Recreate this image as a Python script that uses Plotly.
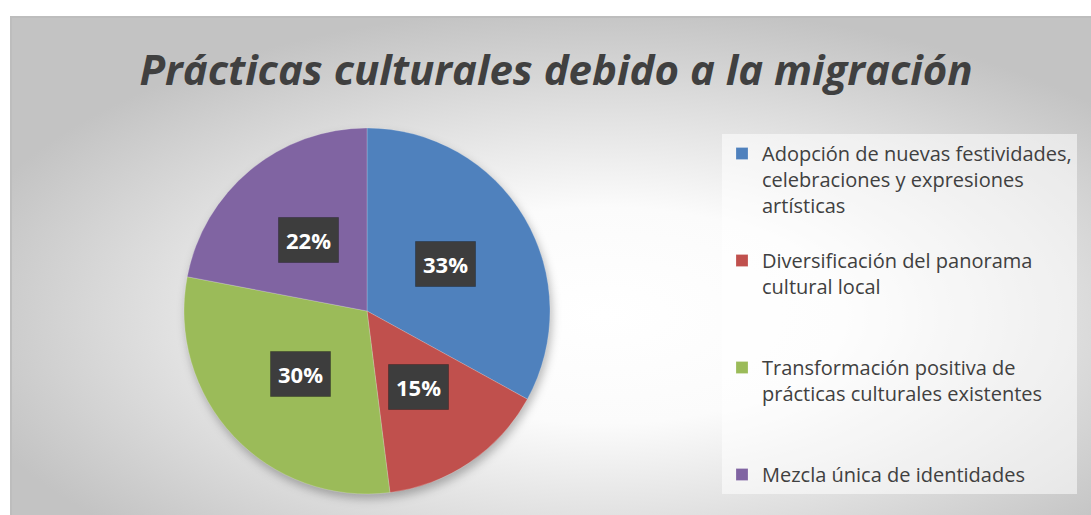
import base64
import math

import plotly.graph_objects as go

# chart data
categories = [
    "Adopción de nuevas festividades,<br>celebraciones y expresiones<br>artísticas",
    "Diversificación del panorama<br>cultural local",
    "Transformación positiva de<br>prácticas culturales existentes",
    "Mezcla única de identidades",
]
shares = [33, 15, 30, 22]
slice_colors = ["#4F81BD", "#C0504D", "#9BBB59", "#8064A2"]
title_text = "Prácticas culturales debido a la migración"

W, H = 1091, 515
FONT = "'Open Sans', 'Noto Sans', sans-serif"

# pie position in pixels (center + radius), converted to paper coords
cx_px, cy_px, r_px = 367, 311, 183
pie_domain = dict(x=[(cx_px - r_px) / W, (cx_px + r_px) / W],
                  y=[1 - (cy_px + r_px) / H, 1 - (cy_px - r_px) / H])

# chart area (background box) in pixels
area_x0, area_y0 = 10, 16
area_w, area_h = W - area_x0, H - area_y0


def background_svg():
    """Radial grey gradient like the Excel chart area, plus a soft pie shadow"""
    scx, scy = cx_px - area_x0 + 2, cy_px - area_y0 + 5
    svg = (
        f"<svg xmlns='http://www.w3.org/2000/svg' width='{area_w}' height='{area_h}' "
        f"viewBox='0 0 {area_w} {area_h}'>"
        "<defs>"
        "<radialGradient id='g' cx='0.55' cy='0.6' r='0.62'>"
        "<stop offset='0' stop-color='#ffffff'/>"
        "<stop offset='0.35' stop-color='#fbfbfb'/>"
        "<stop offset='1' stop-color='#c3c3c3'/>"
        "</radialGradient>"
        "<filter id='b' x='-20%' y='-20%' width='140%' height='140%'>"
        "<feGaussianBlur stdDeviation='5'/></filter>"
        "</defs>"
        f"<rect width='{area_w}' height='{area_h}' fill='url(#g)'/>"
        f"<circle cx='{scx}' cy='{scy}' r='{r_px}' fill='#000' fill-opacity='0.28' filter='url(#b)'/>"
        f"<path d='M1,{area_h} V1 H{area_w}' fill='none' stroke='#bdbdbd' stroke-width='2'/>"
        "</svg>"
    )
    return "data:image/svg+xml;base64," + base64.b64encode(svg.encode("utf-8")).decode()


# pad legend entries to the same number of lines so they are spread like in Excel
legend_lines = 4
legend_labels = [c + "<br> " * (legend_lines - c.count("<br>") - 1) for c in categories]
legend_labels[-1] = categories[-1]

fig = go.Figure()
fig.add_trace(go.Pie(
    labels=legend_labels,
    values=shares,
    marker=dict(colors=slice_colors, line=dict(color="rgba(255,255,255,0.35)", width=0.6)),
    sort=False,
    direction="clockwise",
    rotation=0,
    textinfo="none",
    domain=pie_domain,
))

# data labels: dark boxes at half radius along each slice's middle angle
total = sum(shares)
annotations = []
cum = 0
for v in shares:
    mid = (cum + v / 2) / total * 2 * math.pi
    cum += v
    annotations.append(dict(
        x=cx_px / W + 0.5 * r_px * math.sin(mid) / W,
        y=1 - cy_px / H + 0.5 * r_px * math.cos(mid) / H,
        xref="paper", yref="paper", text=f"<b>{v / total:.0%}</b>", showarrow=False,
        xanchor="center", yanchor="middle", borderpad=7,
        font=dict(family=FONT, size=22, color="white"), bgcolor="#3d3d3d",
        bordercolor="rgba(0,0,0,0.25)", borderwidth=1,
    ))

fig.update_layout(
    width=W, height=H,
    margin=dict(l=0, r=0, t=0, b=0),
    paper_bgcolor="white",
    plot_bgcolor="rgba(0,0,0,0)",
    title=dict(text=f"<b><i>{title_text}</i></b>", x=556 / W, xanchor="center",
               y=1 - 70 / H, yanchor="middle", font=dict(family=FONT, size=42, color="#404040")),
    legend=dict(x=722 / W, y=1 - 134 / H, xanchor="left", yanchor="top", valign="top",
                bgcolor="rgba(255,255,255,0.55)", font=dict(family=FONT, size=20, color="#404040"),
                traceorder="normal"),
    annotations=annotations,
    images=[dict(source=background_svg(), xref="paper", yref="paper",
                 x=area_x0 / W, y=1 - area_y0 / H, sizex=area_w / W, sizey=area_h / H,
                 xanchor="left", yanchor="top", sizing="stretch", layer="below")],
)

# drop the default 8px page margin so the figure sits at the window's top-left corner
fig.write_html("out.html", config={"displayModeBar": False},
               post_script="document.body.style.margin = '0';")
